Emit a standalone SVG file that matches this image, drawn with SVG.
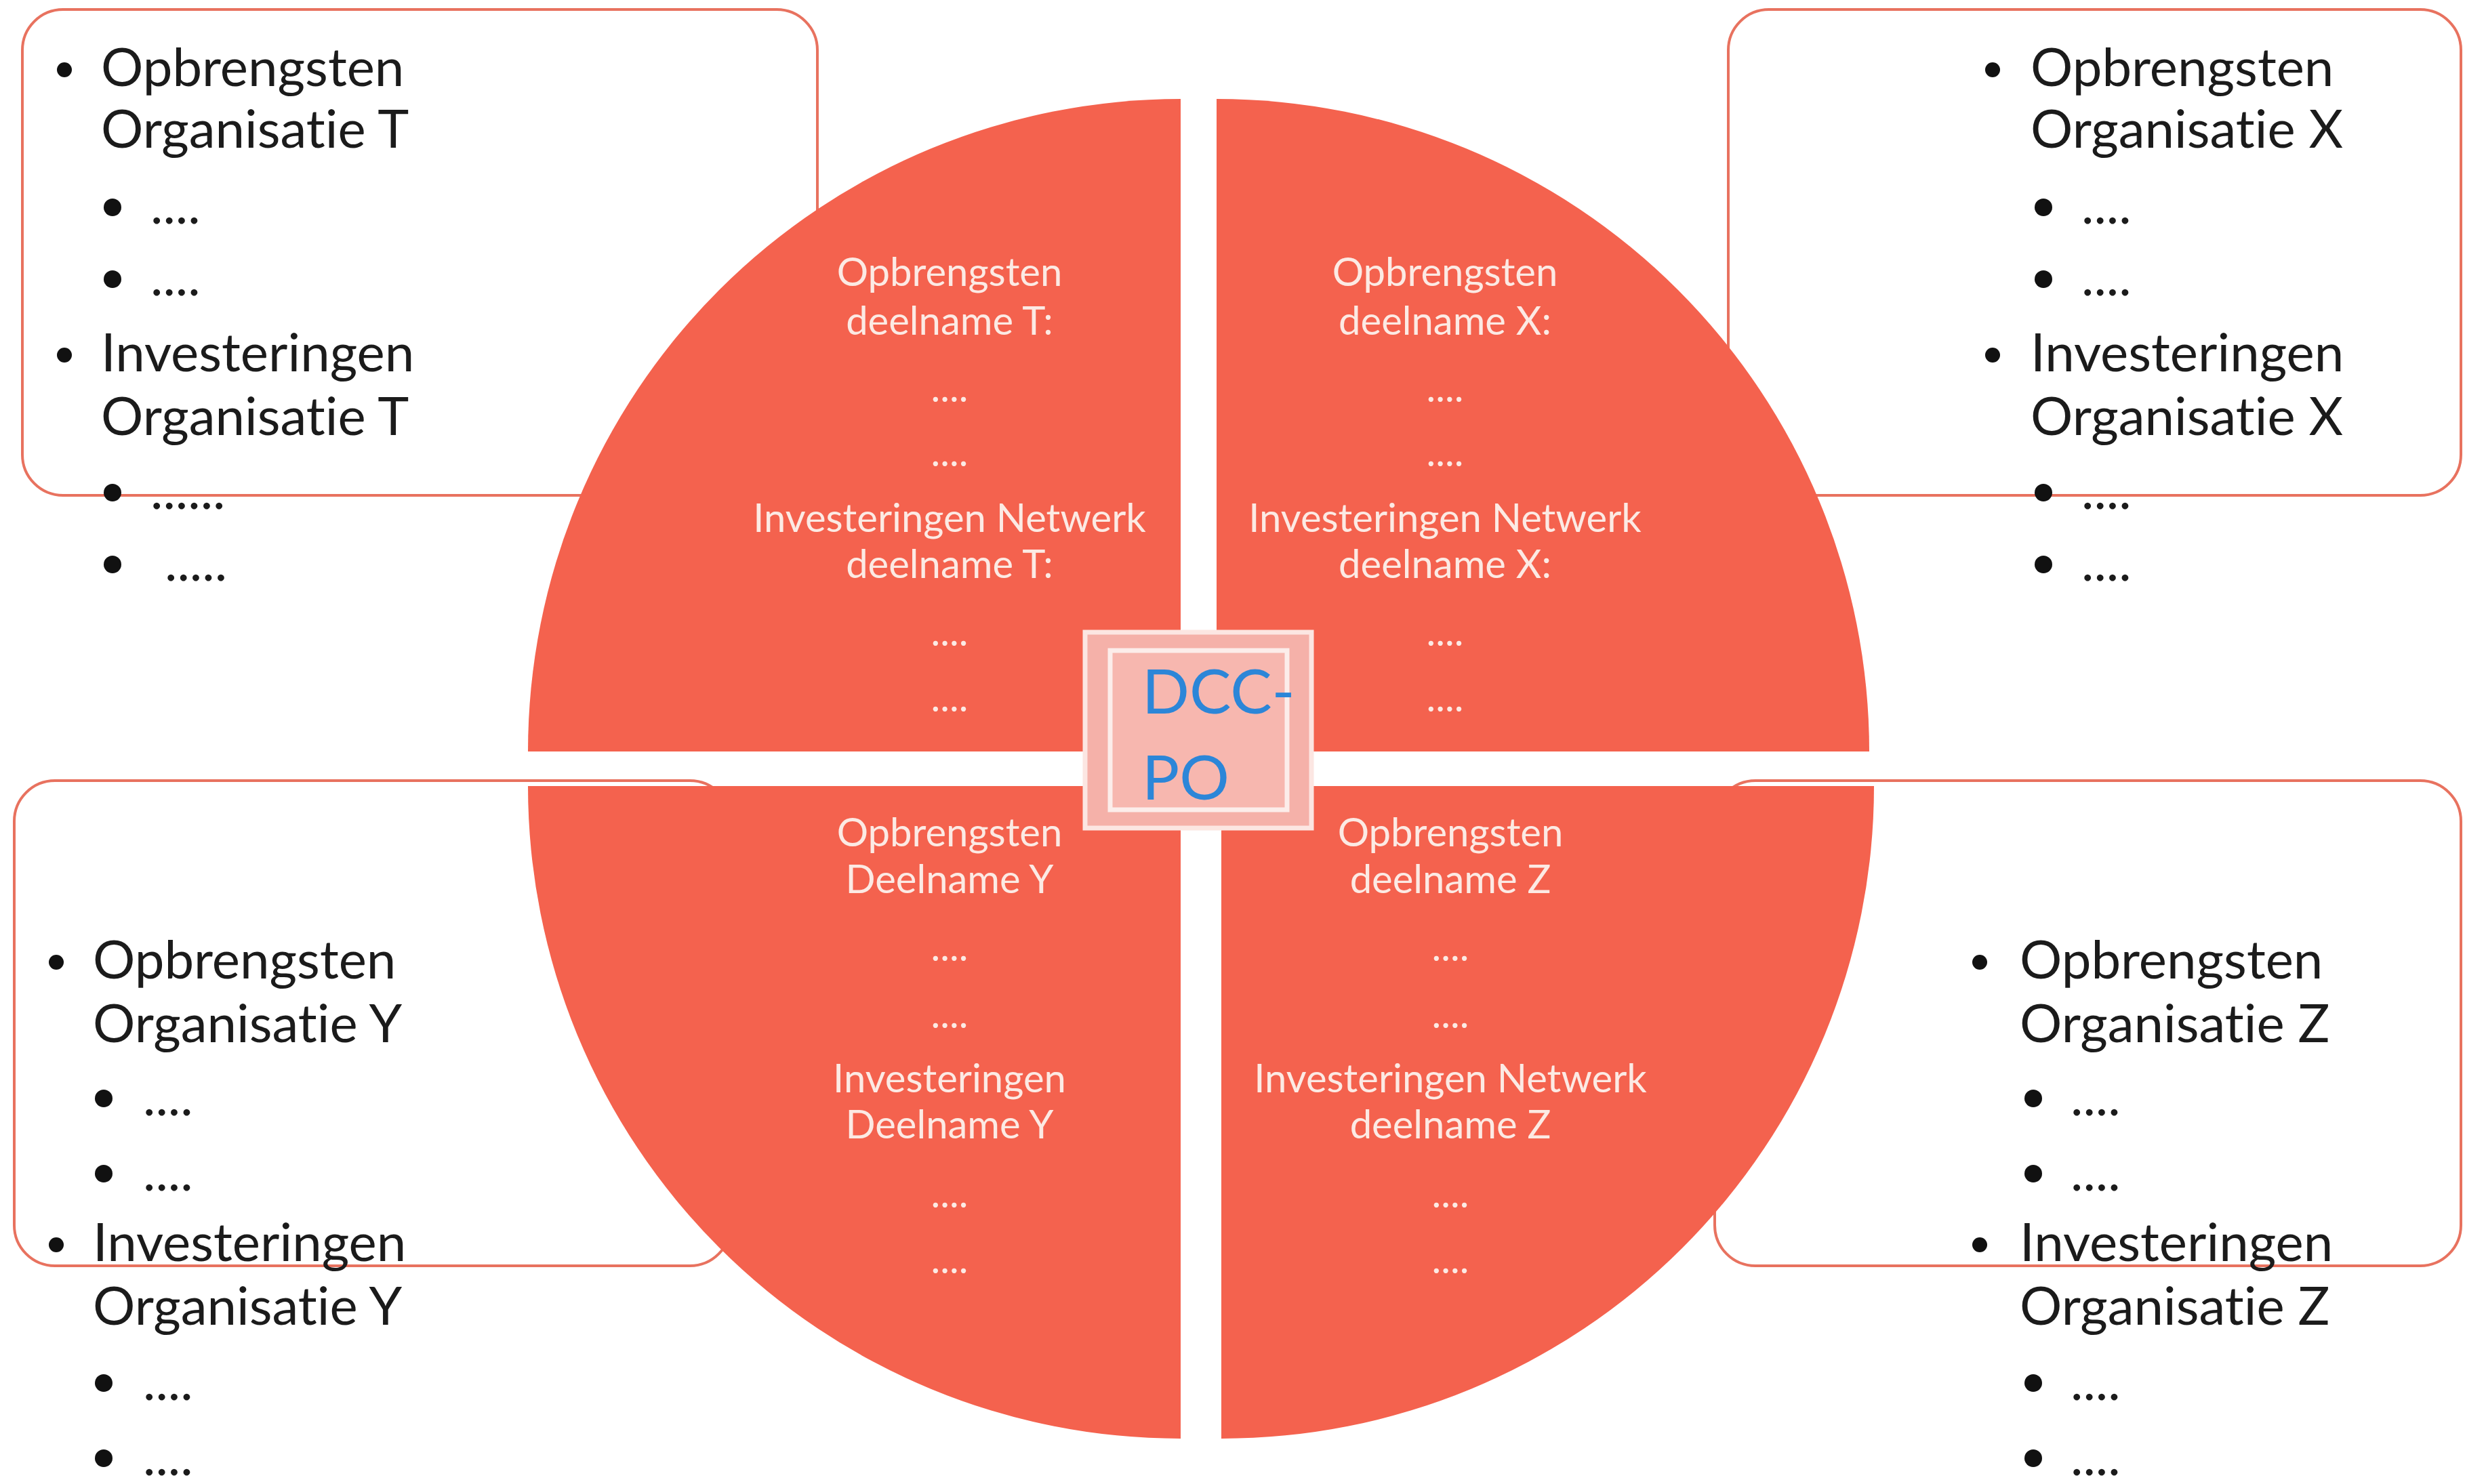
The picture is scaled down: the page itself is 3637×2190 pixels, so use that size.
<svg xmlns="http://www.w3.org/2000/svg" width="3637" height="2190" viewBox="0 0 3637 2190">
<style>
text{font-variant-ligatures:none;font-feature-settings:"liga" 0,"clig" 0}
.box{fill:#ffffff;stroke:#E8725F;stroke-width:4}
.bt{font-family:Lato,"Open Sans","Noto Sans",sans-serif;font-size:78px;fill:#1b1b1b}
.qt{font-family:Lato,"Open Sans","Noto Sans",sans-serif;font-size:58px;fill:#FCEAE4;text-anchor:middle}
.q{fill:#F4624E}
.dcc{font-family:Lato,"Open Sans","Noto Sans",sans-serif;font-size:92px;fill:#2C86D8}
.b1{fill:#111111}
</style>
<rect x="0" y="0" width="3637" height="2190" fill="#ffffff"/>

<g id="box-T">
<rect class="box" x="33" y="14" width="1173" height="717" rx="60"/>
<circle class="b1" cx="95" cy="103" r="11"/><text class="bt" x="149" y="127">Opbrengsten</text>
<text class="bt" x="149" y="218">Organisatie T</text>
<circle class="b1" cx="166" cy="306" r="13"/><text class="bt" x="222" y="330">....</text>
<circle class="b1" cx="166" cy="412" r="13"/><text class="bt" x="222" y="436">....</text>
<circle class="b1" cx="95" cy="524" r="11"/><text class="bt" x="149" y="548">Investeringen</text>
<text class="bt" x="149" y="642">Organisatie T</text>
<circle class="b1" cx="166" cy="727" r="13"/><text class="bt" x="222" y="751">......</text>
<circle class="b1" cx="166" cy="833" r="13"/><text class="bt" x="243" y="857">.....</text>
</g>

<g id="box-X">
<rect class="box" x="2550" y="14" width="1081" height="717" rx="60"/>
<circle class="b1" cx="2940" cy="103" r="11"/><text class="bt" x="2996" y="127">Opbrengsten</text>
<text class="bt" x="2996" y="218">Organisatie X</text>
<circle class="b1" cx="3015" cy="306" r="13"/><text class="bt" x="3071" y="330">....</text>
<circle class="b1" cx="3015" cy="412" r="13"/><text class="bt" x="3071" y="436">....</text>
<circle class="b1" cx="2940" cy="524" r="11"/><text class="bt" x="2996" y="548">Investeringen</text>
<text class="bt" x="2996" y="642">Organisatie X</text>
<circle class="b1" cx="3015" cy="727" r="13"/><text class="bt" x="3071" y="751">....</text>
<circle class="b1" cx="3015" cy="833" r="13"/><text class="bt" x="3071" y="857">....</text>
</g>

<g id="box-Y">
<rect class="box" x="21" y="1152" width="1057" height="716" rx="60"/>
</g>

<g id="box-Z">
<rect class="box" x="2530" y="1152" width="1101" height="716" rx="60"/>
</g>

<g id="circle">
<g id="quadrant-T">
<path class="q" d="M1742,1109 L779,1109 A963,963 0 0 1 1742,146 Z"/>
<text class="qt" x="1401" y="422">Opbrengsten</text>
<text class="qt" x="1401" y="494">deelname T:</text>
<text class="qt" x="1401" y="593">....</text>
<text class="qt" x="1401" y="688">....</text>
<text class="qt" x="1401" y="785">Investeringen Netwerk</text>
<text class="qt" x="1401" y="853">deelname T:</text>
<text class="qt" x="1401" y="953">....</text>
<text class="qt" x="1401" y="1050">....</text>
</g>
<g id="quadrant-X">
<path class="q" d="M1795,1109 L1795,146 A963,963 0 0 1 2758,1109 Z"/>
<text class="qt" x="2132" y="422">Opbrengsten</text>
<text class="qt" x="2132" y="494">deelname X:</text>
<text class="qt" x="2132" y="593">....</text>
<text class="qt" x="2132" y="688">....</text>
<text class="qt" x="2132" y="785">Investeringen Netwerk</text>
<text class="qt" x="2132" y="853">deelname X:</text>
<text class="qt" x="2132" y="953">....</text>
<text class="qt" x="2132" y="1050">....</text>
</g>
<g id="quadrant-Y">
<path class="q" d="M1742,1160 L1742,2123 A963,963 0 0 1 779,1160 Z"/>
<text class="qt" x="1401" y="1249">Opbrengsten</text>
<text class="qt" x="1401" y="1318">Deelname Y</text>
<text class="qt" x="1401" y="1418">....</text>
<text class="qt" x="1401" y="1517">....</text>
<text class="qt" x="1401" y="1612">Investeringen</text>
<text class="qt" x="1401" y="1680">Deelname Y</text>
<text class="qt" x="1401" y="1782">....</text>
<text class="qt" x="1401" y="1879">....</text>
</g>
<g id="quadrant-Z">
<path class="q" d="M1802,1160 L2765,1160 A963,963 0 0 1 1802,2123 Z"/>
<text class="qt" x="2140" y="1249">Opbrengsten</text>
<text class="qt" x="2140" y="1318">deelname Z</text>
<text class="qt" x="2140" y="1418">....</text>
<text class="qt" x="2140" y="1517">....</text>
<text class="qt" x="2140" y="1612">Investeringen Netwerk</text>
<text class="qt" x="2140" y="1680">deelname Z</text>
<text class="qt" x="2140" y="1782">....</text>
<text class="qt" x="2140" y="1879">....</text>
</g>
</g>

<g id="texts-Y">
<circle class="b1" cx="83" cy="1420" r="11"/><text class="bt" x="137" y="1444">Opbrengsten</text>
<text class="bt" x="137" y="1538">Organisatie Y</text>
<circle class="b1" cx="153" cy="1621" r="13"/><text class="bt" x="211" y="1646">....</text>
<circle class="b1" cx="153" cy="1732" r="13"/><text class="bt" x="211" y="1757">....</text>
<circle class="b1" cx="83" cy="1837" r="11"/><text class="bt" x="137" y="1861">Investeringen</text>
<text class="bt" x="137" y="1955">Organisatie Y</text>
<circle class="b1" cx="153" cy="2041" r="13"/><text class="bt" x="211" y="2066">....</text>
<circle class="b1" cx="153" cy="2152" r="13"/><text class="bt" x="211" y="2177">....</text>
</g>

<g id="texts-Z">
<circle class="b1" cx="2921" cy="1420" r="11"/><text class="bt" x="2980" y="1444">Opbrengsten</text>
<text class="bt" x="2980" y="1538">Organisatie Z</text>
<circle class="b1" cx="3000" cy="1621" r="13"/><text class="bt" x="3055" y="1646">....</text>
<circle class="b1" cx="3000" cy="1732" r="13"/><text class="bt" x="3055" y="1757">....</text>
<circle class="b1" cx="2921" cy="1837" r="11"/><text class="bt" x="2980" y="1861">Investeringen</text>
<text class="bt" x="2980" y="1955">Organisatie Z</text>
<circle class="b1" cx="3000" cy="2041" r="13"/><text class="bt" x="3055" y="2066">....</text>
<circle class="b1" cx="3000" cy="2152" r="13"/><text class="bt" x="3055" y="2177">....</text>
</g>

<g id="dcc-po">
<rect x="1601" y="933" width="334" height="289" fill="#F5B1A9" stroke="#FCE6E2" stroke-width="7"/>
<rect x="1638" y="960" width="261" height="235" fill="#F7B7AF" stroke="#FCEDEA" stroke-width="7"/>
<text class="dcc" x="1685" y="1053">DCC-</text>
<text class="dcc" x="1685" y="1180">PO</text>
</g>

<g id="connectors"/>
</svg>
